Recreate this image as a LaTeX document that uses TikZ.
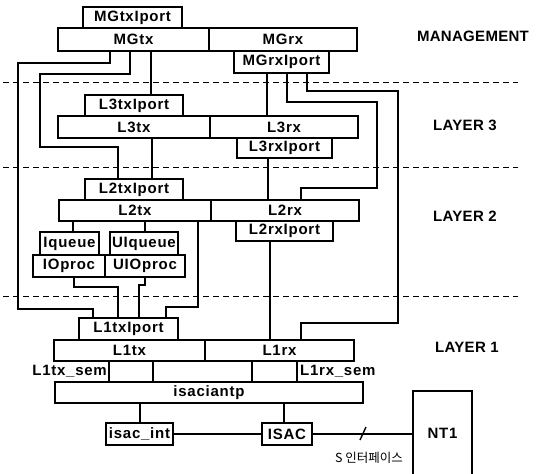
\documentclass[tikz,border=0pt]{standalone}
\usepackage{fontspec}
\setmainfont{Liberation Sans}
\newfontfamily\bxf{Liberation Sans}[LetterSpace=5]
\newfontfamily\lyf{Liberation Sans}[LetterSpace=2]
\newfontfamily\krf{Noto Sans CJK KR}
\tikzset{
  box/.style={draw, line width=1.4pt, inner sep=0pt, font=\bxf\bfseries\fontsize{15}{15}\selectfont},
  wire/.style={line width=1.4pt},
  sepline/.style={line width=0.8pt, dash pattern=on 6pt off 4pt},
  lbl/.style={inner sep=0pt, font=\bxf\bfseries\fontsize{15}{15}\selectfont},
  laylbl/.style={inner sep=0pt, font=\lyf\bfseries\fontsize{15}{15}\selectfont},
}
\newcommand\bx[6]{\node[box, minimum width={(#4-#2)*1pt}, minimum height={(#5-#3)*1pt}] (#1) at ({(#2+#4)/2},{(#3+#5)/2}) {#6};}
\begin{document}
\begin{tikzpicture}[x=1pt,y=-1pt]
\useasboundingbox (0,0) rectangle (536,474);
\clip (0,0) rectangle (536,474);
% layer separators
\coordinate (s1a) at (3,82);  \coordinate (s1b) at (518,82);
\coordinate (s2a) at (3,167); \coordinate (s2b) at (518,167);
\coordinate (s3a) at (3,296); \coordinate (s3b) at (518,296);
\draw[sepline] (s1a) -- (s1b);
\draw[sepline] (s2a) -- (s2b);
\draw[sepline] (s3a) -- (s3b);
% layer labels
\node[laylbl] (lm) at (473,36) {MANAGEMENT};
\node[laylbl, anchor=west] (l3) at (433,125) {LAYER 3};
\node[laylbl, anchor=west] (l2) at (433,216) {LAYER 2};
\node[laylbl, anchor=west] (l1) at (435,347) {LAYER 1};
% management
\bx{mgtxip}{83}{7}{182}{28}{MGtxIport}
\bx{mgtx}{58}{28}{209}{51}{MGtx}
\bx{mgrx}{209}{28}{357}{51}{MGrx}
\bx{mgrxip}{234}{51}{329}{73}{MGrxIport}
% layer 3
\bx{lthreetxip}{85}{95}{183}{116}{L3txIport}
\bx{lthreetx}{58}{116}{210}{138}{L3tx}
\bx{lthreerx}{210}{116}{358}{138}{L3rx}
\bx{lthreerxip}{237}{138}{332}{158}{L3rxIport}
% layer 2
\bx{ltwotxip}{85}{179}{183}{200}{L2txIport}
\bx{ltwotx}{59}{200}{211}{221}{L2tx}
\bx{ltworx}{211}{200}{359}{221}{L2rx}
\bx{ltworxip}{236}{221}{333}{241}{L2rxIport}
\bx{iq}{40}{232}{99}{255}{Iqueue}
\bx{uiq}{110}{232}{178}{255}{UIqueue}
\bx{iop}{33}{255}{105}{277}{IOproc}
\bx{uiop}{105}{255}{185}{277}{UIOproc}
% layer 1
\bx{lonetxip}{79}{318}{178}{340}{L1txIport}
\bx{lonetx}{54}{340}{205}{361}{L1tx}
\bx{lonerx}{205}{340}{354}{361}{L1rx}
\bx{isacintp}{55}{382}{363}{403}{isaciantp}
\bx{isacint}{106}{423}{173}{445}{isac\_int}
\bx{isac}{262}{423}{312}{445}{ISAC}
\bx{nt}{413}{391}{472}{476}{NT1}
% sem cells
\draw[wire] (lonetx.south -| 109,0) -- (isacintp.north -| 109,0);
\draw[wire] (lonetx.south -| 153,0) -- (isacintp.north -| 153,0);
\draw[wire] (lonerx.south -| 252,0) -- (isacintp.north -| 252,0);
\draw[wire] (lonerx.south -| 297,0) -- (isacintp.north -| 297,0);
\node[lbl, anchor=east] (txsem) at (107,371) {L1tx\_sem};
\node[lbl, anchor=west] (rxsem) at (300,371) {L1rx\_sem};
% connectors
\draw[wire] (mgtx.south -| 151,0) -- (lthreetxip.north -| 151,0);
\draw[wire] (mgtx.south -| 110,0) -- (110,63) -- (18,63) -- (18,309) -- (93,309) -- (lonetxip.north -| 93,0);
\draw[wire] (mgtx.south -| 130,0) -- (130,74) -- (40,74) -- (40,147) -- (118,147) -- (ltwotxip.north -| 118,0);
\draw[wire] (lthreetx.south -| 152,0) -- (ltwotxip.north -| 152,0);
\draw[wire] (mgrxip.south -| 267,0) -- (lthreerx.north -| 267,0);
\draw[wire] (mgrxip.south -| 287,0) -- (287,102) -- (377,102) -- (377,188) -- (301,188) -- (ltworx.north -| 301,0);
\draw[wire] (mgrxip.south -| 307,0) -- (307,91) -- (398,91) -- (398,323) -- (301,323) -- (lonerx.north -| 301,0);
\draw[wire] (lthreerxip.south -| 268,0) -- (ltworx.north -| 268,0);
\draw[wire] (ltworxip.south -| 270,0) -- (lonerx.north -| 270,0);
\draw[wire] (ltwotx.south -| 73,0) -- (iq.north -| 73,0);
\draw[wire] (ltwotx.south -| 145,0) -- (uiq.north -| 145,0);
\draw[wire] (ltwotx.south -| 198,0) -- (198,307) -- (166,307) -- (lonetxip.north -| 166,0);
\draw[wire] (iop.south -| 74,0) -- (74,287) -- (118,287) -- (lonetxip.north -| 118,0);
\draw[wire] (uiop.south -| 145,0) -- (145,285) -- (139,285) -- (lonetxip.north -| 139,0);
\draw[wire] (isacintp.south -| 140,0) -- (isacint.north -| 140,0);
\draw[wire] (isacintp.south -| 284,0) -- (isac.north -| 284,0);
\draw[wire] (isacint.east) -- (isac.west);
\draw[wire] (isac.east) -- (isac.east -| nt.west);
\draw[wire] (360,440) -- (366,427);
\node[inner sep=0pt, font=\krf\fontsize{12.5}{12.5}\selectfont] (sif) at (369,458) {S 인터페이스};
\end{tikzpicture}
\end{document}
